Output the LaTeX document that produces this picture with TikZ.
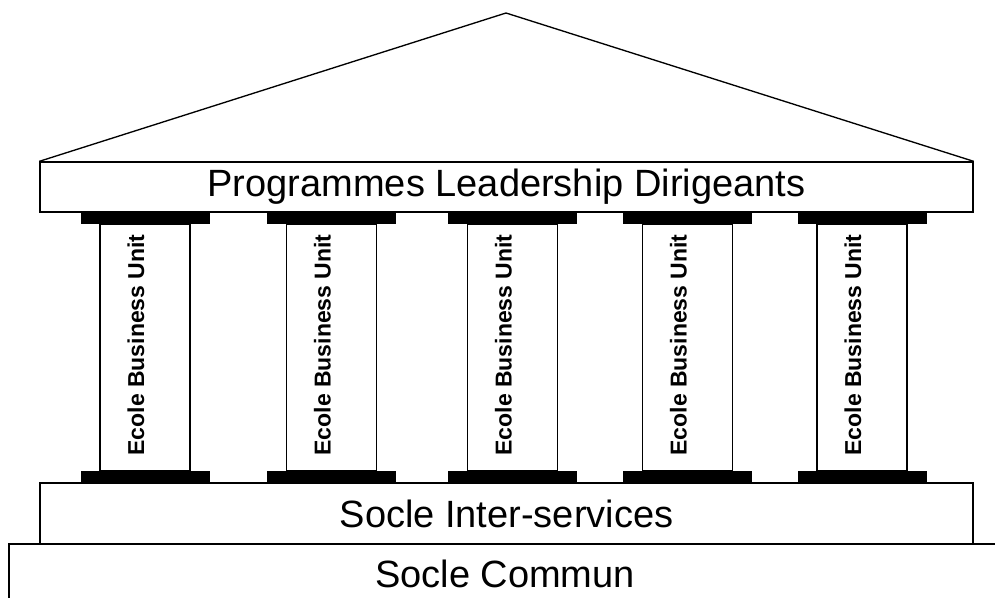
\documentclass[tikz,border=0pt]{standalone}
\usepackage{fontspec}
\setmainfont{Liberation Sans}
\newcommand{\bigtext}{\fontsize{28.5}{30}\selectfont}
\newcommand{\coltext}{\fontsize{17.25}{18}\selectfont\bfseries}
\begin{document}
\begin{tikzpicture}[x=0.75pt, y=-0.75pt,
        slab/.style={rectangle, draw, line width=1pt, inner sep=0pt, minimum width=699.75pt, font=\bigtext},
        shaft/.style={rectangle, draw, line width=1pt, inner sep=0pt, minimum width=67.5pt, minimum height=185.25pt},
        capbar/.style={rectangle, fill=black, inner sep=0pt, minimum width=96.75pt, minimum height=9pt},
        collabel/.style={rotate=90, inner sep=0pt, font=\coltext}
    ]
    \useasboundingbox (0,0) rectangle (995,598);
    % socles
    \node[rectangle, draw, line width=1pt, inner sep=0pt, minimum width=747pt, minimum height=49.5pt] (commun) at (507,577) {};
    \node[inner sep=0pt, font=\bigtext] (communtxt) at (505,574) {Socle Commun};
    \node[slab, minimum height=45.75pt] (inter) at (506.5,513.5) {Socle Inter-services};
    % colonnes
    \foreach \cx [count=\i] in {145,331.5,512.5,687.5,862} {
        \node[shaft] (col\i) at (\cx,347.5) {};
        \node[capbar] (captop\i) at (\cx,218) {};
        \node[capbar] (capbot\i) at (\cx,477) {};
        \node[collabel] (lab\i) at (\cx-9,345) {Ecole Business Unit};
    }
    % entablement et fronton
    \node[slab, minimum height=37.5pt] (entab) at (506.5,187) {Programmes Leadership Dirigeants};
    \coordinate (apex) at (506,13);
    \draw[line width=1pt, line join=miter] (entab.north west) -- (apex) -- (entab.north east);
\end{tikzpicture}
\end{document}
